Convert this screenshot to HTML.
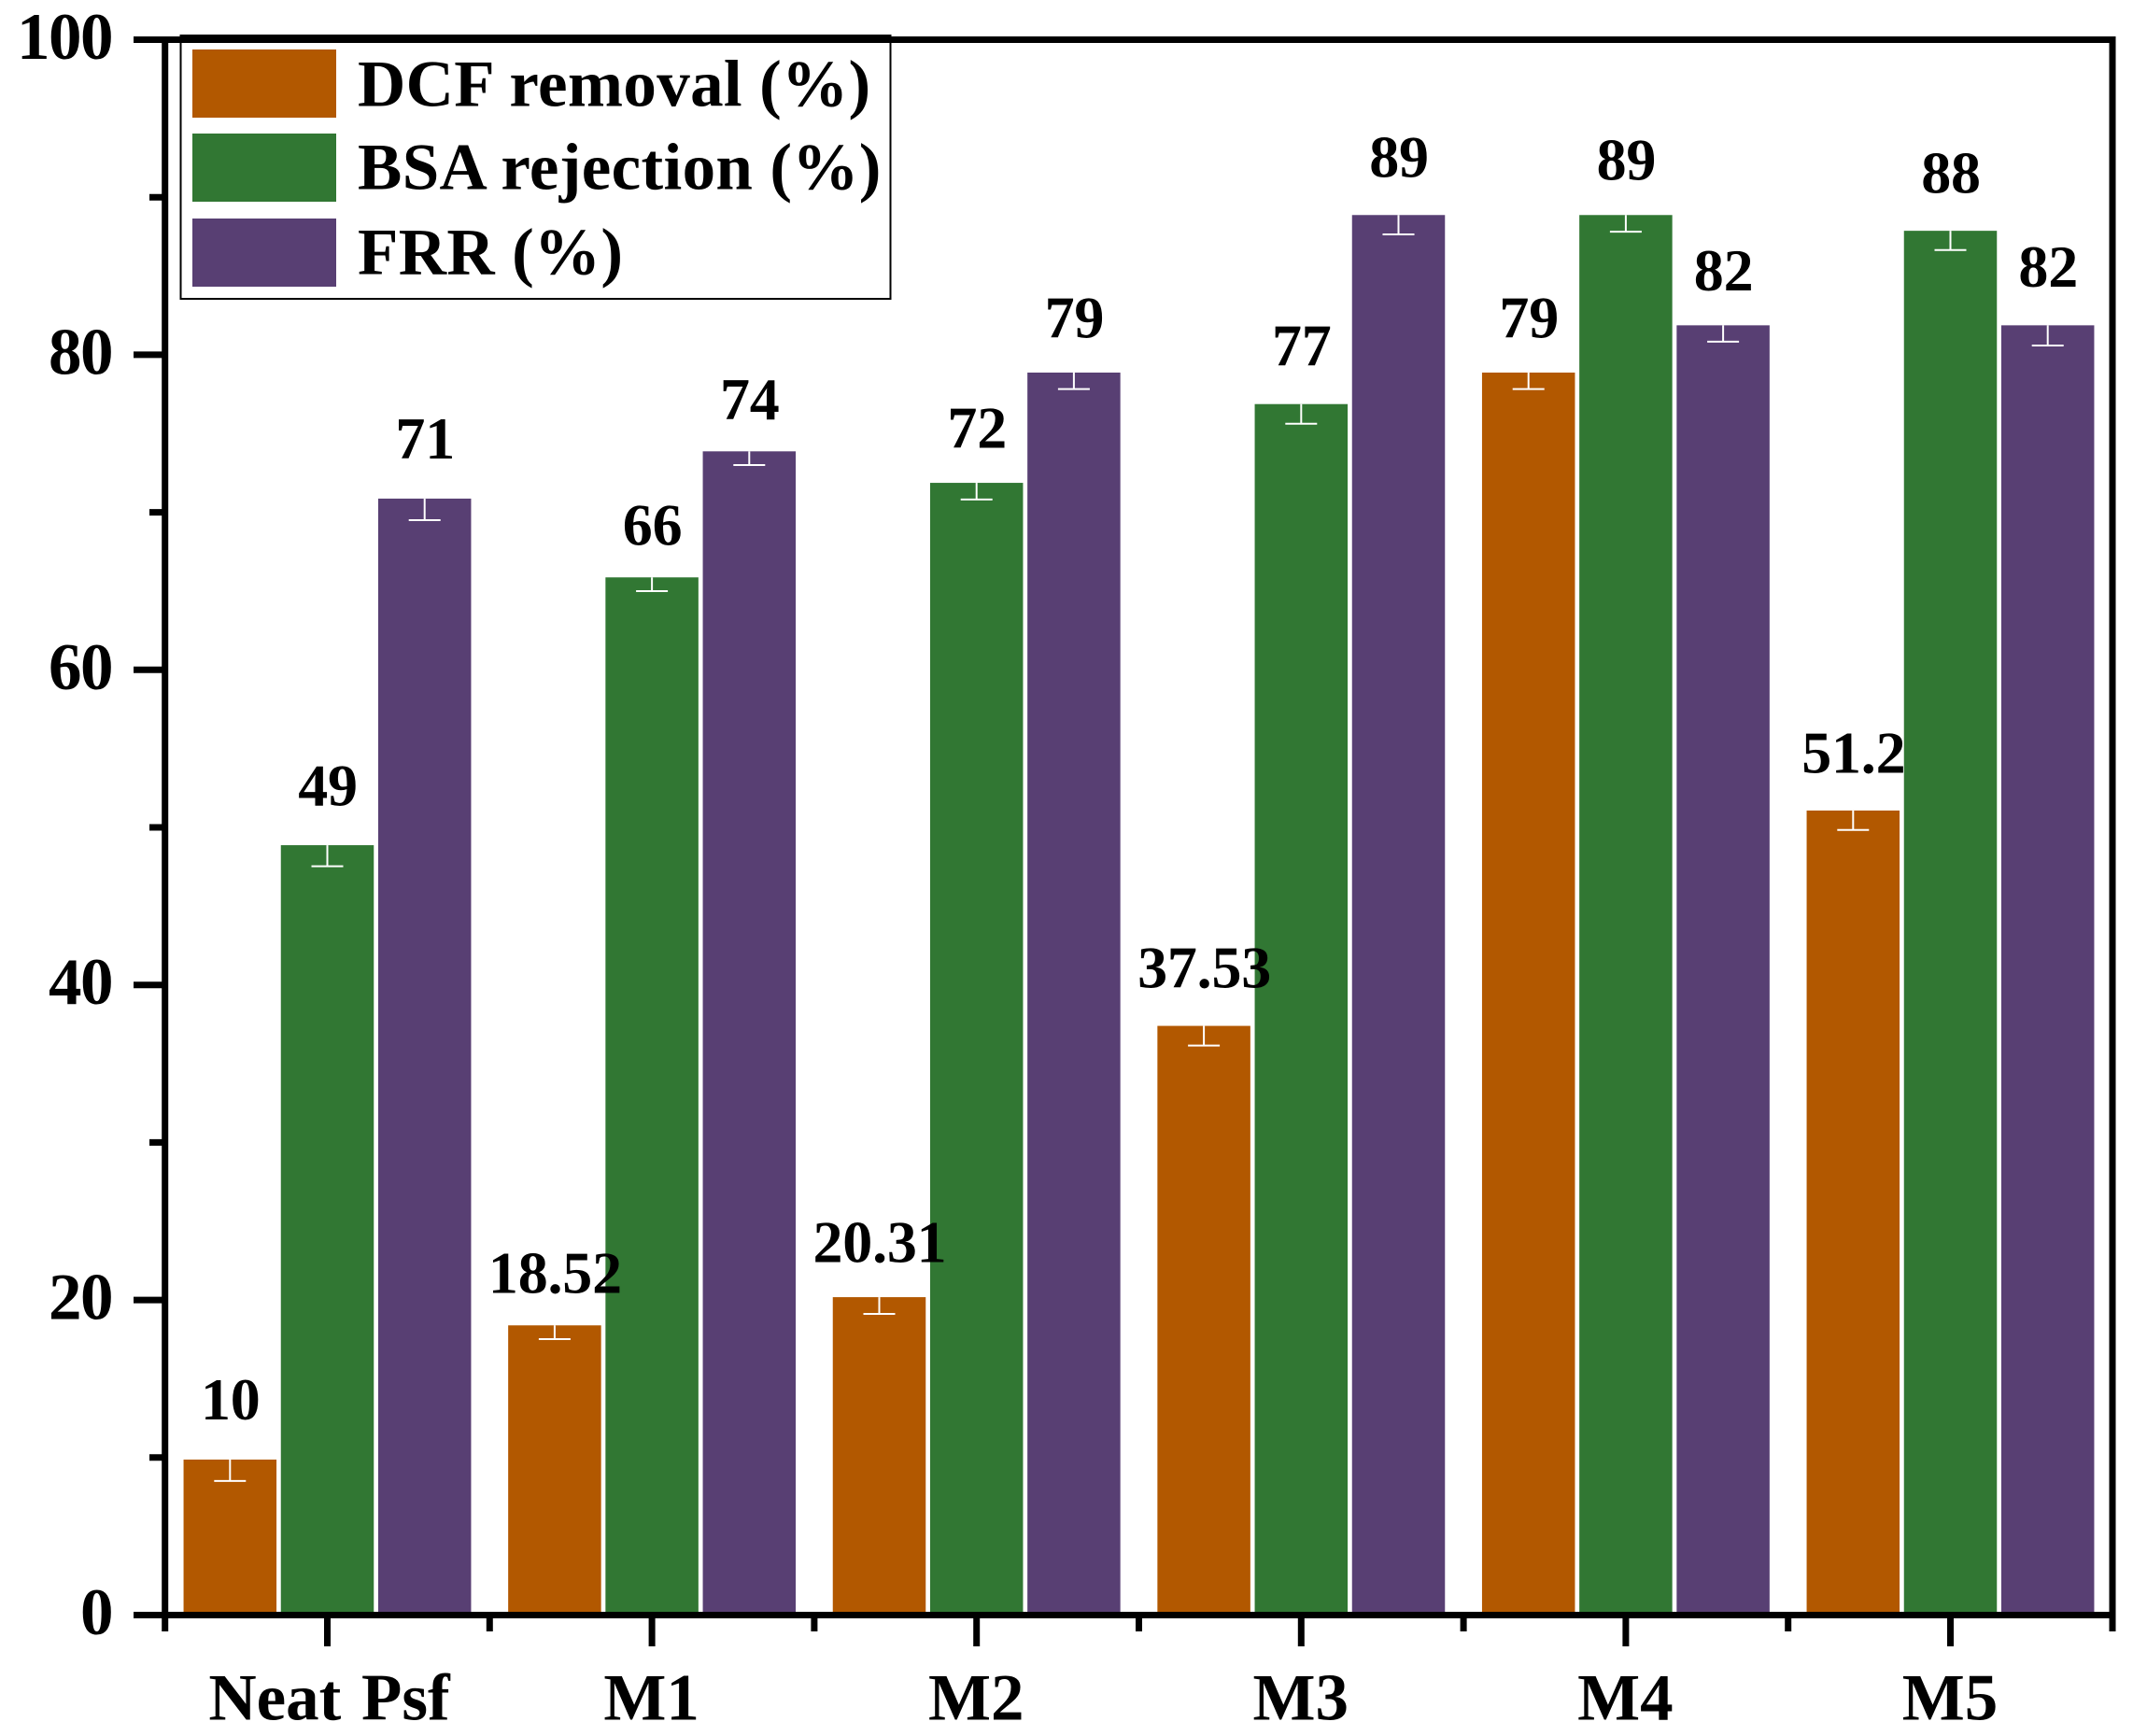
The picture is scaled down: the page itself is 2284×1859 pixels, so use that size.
<!DOCTYPE html>
<html lang="en">
<head>
<meta charset="utf-8">
<title>DCF removal, BSA rejection and FRR by membrane</title>
<style>
  html, body { margin: 0; padding: 0; background: #fff; }
  #chart { display: block; width: 2284px; height: 1859px; }
  text { font-family: "Liberation Serif", "Times New Roman", serif; font-weight: 700; fill: #000; }
</style>
</head>
<body>
<svg id="chart" xmlns="http://www.w3.org/2000/svg" width="2284" height="1859" viewBox="0 0 2284 1859">
  <rect x="0" y="0" width="2284" height="1859" fill="#ffffff"/>
  <g id="bars"></g>
  <g id="errors"></g>
  <g id="axes"></g>
  <g id="legend"></g>
  <g id="labels"></g>
</svg>
<script>
const categories = ['Neat Psf', 'M1', 'M2', 'M3', 'M4', 'M5'];
const seriesNames = ['DCF removal (%)', 'BSA rejection (%)', 'FRR (%)'];
const dcfRemoval = [10, 18.52, 20.31, 37.53, 79, 51.2];
const bsaRejection = [49, 66, 72, 77, 89, 88];
const frr = [71, 74, 79, 89, 82, 82];
const dcfError = [1.49, 1.0, 1.19, 1.38, 1.18, 1.36];
const bsaError = [1.47, 1.0, 1.19, 1.38, 1.19, 1.35];
const frrError = [1.5, 1.0, 1.18, 1.36, 1.17, 1.41];
const dcfLabels = ['10', '18.52', '20.31', '37.53', '79', '51.2'];
const bsaLabels = ['49', '66', '72', '77', '89', '88'];
const frrLabels = ['71', '74', '79', '89', '82', '82'];
const yMajorTicks = [0, 20, 40, 60, 80, 100];
const yMinorTicks = [10, 30, 50, 70, 90];

const NS = 'http://www.w3.org/2000/svg';
const colors = ['#b25800', '#317733', '#583f73'];
const values = [dcfRemoval, bsaRejection, frr];
const errors = [dcfError, bsaError, frrError];
const printed = [dcfLabels, bsaLabels, frrLabels];
const seriesKeys = ['dcf', 'bsa', 'frr'];

const yZero = 1729.5, yPerUnit = 16.87;
const xFirst = 350.5, xStep = 347.6, barOffset = 104.2, barWidth = 99.5, barInset = 2.2;
const capHalf = 17, labelGap = 15.5;
const axisWidth = 7;
const leftX = 176.7, rightX = 2262;

function yScale(v) { return yZero - v * yPerUnit; }
function xScale(i) { return xFirst + i * xStep; }

function make(tag, attrs, parent) {
  const el = document.createElementNS(NS, tag);
  for (const k in attrs) el.setAttribute(k, attrs[k]);
  parent.appendChild(el);
  return el;
}

const barsG = document.getElementById('bars');
const errorsG = document.getElementById('errors');
const axesG = document.getElementById('axes');
const legendG = document.getElementById('legend');
const labelsG = document.getElementById('labels');

values.forEach(function (series, s) {
  series.forEach(function (v, i) {
    const cx = xScale(i) + (s - 1) * barOffset;
    const top = yScale(v) + barInset;
    const bar = make('rect', { x: cx - barWidth / 2, y: top, width: barWidth, height: yZero - 3.5 - top, fill: colors[s] }, barsG);
    
    

    const errPx = errors[s][i] * yPerUnit;
    const capY = yScale(v) + errPx;
    const stem = make('line', { x1: cx, x2: cx, y1: top, y2: capY, stroke: '#ffffff', 'stroke-width': 2 }, errorsG);
    
    
    const cap = make('line', { x1: cx - capHalf, x2: cx + capHalf, y1: capY, y2: capY, stroke: '#ffffff', 'stroke-width': 2 }, errorsG);
    
    

    const label = make('text', { x: cx + 0.5, y: yScale(v) - errPx - labelGap, 'text-anchor': 'middle', 'font-size': 64, 'letter-spacing': -0.2 }, labelsG);
    label.textContent = printed[s][i];
    
    
  });
});

function axisLine(x1, y1, x2, y2, name) {
  const l = make('line', { x1: x1, y1: y1, x2: x2, y2: y2, stroke: '#000000', 'stroke-width': axisWidth }, axesG);
  
  
}

const yTop = yScale(100);
axisLine(leftX, yTop - 3.5, leftX, 1747, 'y-axis-line');
axisLine(rightX, yTop - 3.5, rightX, 1747, 'right-spine');
axisLine(143, yZero, rightX + 3.5, yZero, 'x-axis-line');
axisLine(143, yTop, rightX + 3.5, yTop, 'top-spine');

yMajorTicks.forEach(function (t) {
  axisLine(143, yScale(t), leftX, yScale(t), 'y-major-tick-' + t);
  const tx = make('text', { x: 120, y: yScale(t) + 20.5, 'text-anchor': 'end', 'font-size': 71, 'letter-spacing': -1.5 }, axesG);
  tx.textContent = String(t);
  
  
});
yMinorTicks.forEach(function (t) {
  axisLine(160, yScale(t), leftX, yScale(t), 'y-minor-tick-' + t);
});

categories.forEach(function (c, i) {
  axisLine(xScale(i), yZero, xScale(i), 1763, 'x-major-tick-' + i);
  if (i > 0) axisLine(xScale(i) - xStep / 2, yZero, xScale(i) - xStep / 2, 1747, 'x-minor-tick-' + i);
  const tx = make('text', { x: xScale(i) + (c.indexOf(' ') >= 0 ? 2 : -0.5), y: 1841.5, 'text-anchor': 'middle', 'font-size': 71, 'word-spacing': 4 }, axesG);
  tx.textContent = c;
  
  
});

const legendBox = make('rect', { x: 193.5, y: 38, width: 760, height: 282, fill: 'none', stroke: '#000000', 'stroke-width': 2 }, legendG);


const swatchTops = [53, 143, 234];
const legendBaselines = [113.3, 202.7, 293.3];
seriesNames.forEach(function (n, s) {
  const sw = make('rect', { x: 206, y: swatchTops[s], width: 154, height: 73, fill: colors[s] }, legendG);
  
  
  const tx = make('text', { x: 383, y: legendBaselines[s], 'font-size': 71, 'letter-spacing': 0.35 }, legendG);
  tx.textContent = n;
  
  
});
</script>
</body>
</html>
